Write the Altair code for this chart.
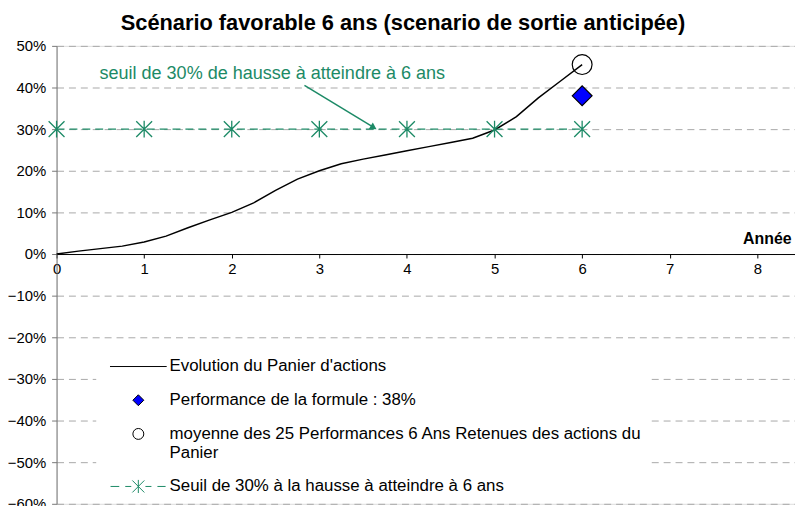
import altair as alt
import pandas as pd

# ---------------- data ----------------
years = [0, 0.25, 0.5, 0.75, 1.0, 1.25, 1.5, 1.75, 2.0, 2.25, 2.5, 2.75, 3.0,
         3.25, 3.5, 3.75, 4.0, 4.25, 4.5, 4.75, 5.0, 5.25, 5.5, 5.75, 6.0]
panier = [0.0, 0.007, 0.013, 0.019, 0.029, 0.043, 0.063, 0.082, 0.100, 0.123,
          0.153, 0.180, 0.200, 0.217, 0.228, 0.238, 0.248, 0.258, 0.268, 0.278,
          0.298, 0.330, 0.375, 0.415, 0.455]

seuil_years = [0, 1, 2, 3, 4, 5, 6]
seuil_values = [0.30, 0.30, 0.30, 0.30, 0.30, 0.30, 0.30]

perf_year = [6]
perf_value = [0.38]
moy_year = [6]
moy_value = [0.455]

series_names = [
    "Evolution du Panier d'actions",
    "Performance de la formule : 38%",
    "moyenne des 25 Performances 6 Ans Retenues des actions du Panier",
    "Seuil de 30% à la hausse à atteindre à 6 ans",
]
x_ticks = [0, 1, 2, 3, 4, 5, 6, 7, 8]
y_ticks = [-0.6, -0.5, -0.4, -0.3, -0.2, -0.1, 0.0, 0.1, 0.2, 0.3, 0.4, 0.5]

title_text = "Scénario favorable 6 ans (scenario de sortie anticipée)"
annot_text = "seuil de 30% de hausse à atteindre à 6 ans"

# ---------------- style / layout ----------------
GREEN = "#1c8a66"
FONT = "Liberation Sans"
W, H = 745, 462
X_DOM = [0, 8.43]
Y_DOM = [-0.6, 0.5]
AXIS_OFFSET = -H * (0 - Y_DOM[0]) / (Y_DOM[1] - Y_DOM[0])

ANNOT_X, ANNOT_Y = 0.49, 0.433
ARROW_X1, ARROW_Y1, ARROW_X2, ARROW_Y2 = 2.83, 0.405, 3.62, 0.304

STAR = "M0,-0.85L0,0.85M-0.8,-0.8L0.8,0.8M-0.8,0.8L0.8,-0.8"
LEG_LINE = "M-5.2,0L5.2,0"
LEG_SEUIL = ("M-5.1,0L-3.5,0M-2.4,0L-1.3,0M1.3,0L2.4,0M3.5,0L5.0,0"
             "M0,-1.2L0,1.2M-1.1,-1.1L1.1,1.1M-1.1,1.1L1.1,-1.1")

xs = alt.Scale(domain=X_DOM, nice=False, zero=False)
ys = alt.Scale(domain=Y_DOM, nice=False, zero=False)

df_line = pd.DataFrame({"annee": years, "valeur": panier})
df_seuil = pd.DataFrame({"annee": seuil_years, "valeur": seuil_values})
df_mark = pd.DataFrame({
    "annee": perf_year + moy_year,
    "valeur": perf_value + moy_value,
    "serie": [series_names[1], series_names[2]],
})
df_annot = pd.DataFrame({"x": [ANNOT_X], "y": [ANNOT_Y], "t": [annot_text]})
df_arrow = pd.DataFrame({"x": [ARROW_X1], "y": [ARROW_Y1],
                         "x2": [ARROW_X2], "y2": [ARROW_Y2]})

x_axis = alt.Axis(values=x_ticks, format="d", grid=False, offset=AXIS_OFFSET,
                  domainColor="black", tickColor="black", tickSize=4,
                  labelFontSize=15, labelFont=FONT, labelColor="black",
                  labelPadding=4, labelFlush=False,
                  title="Année", titleFont=FONT, titleFontSize=16,
                  titleFontWeight="bold", titleColor="black",
                  titleX=W - 4, titleY=-11, titleAlign="right",
                  titleBaseline="alphabetic")
y_axis = alt.Axis(values=y_ticks, format=".0%", grid=True,
                  gridColor="#a8a8a8", gridDash=[7, 5], gridWidth=1,
                  domainColor="#777777", tickColor="#777777", tickSize=5,
                  labelFontSize=15, labelFont=FONT, labelColor="black",
                  labelPadding=6, title=None)

base_x = alt.X("annee:Q", scale=xs, axis=x_axis)
base_y = alt.Y("valeur:Q", scale=ys, axis=y_axis)

line = alt.Chart(df_line).mark_line(color="black", strokeWidth=1.5).encode(
    x=base_x, y=base_y)

seuil_line = alt.Chart(df_seuil).mark_line(
    color=GREEN, strokeWidth=1.3, strokeDash=[8, 5]).encode(
    x=alt.X("annee:Q", scale=xs), y=alt.Y("valeur:Q", scale=ys))
seuil_pts = alt.Chart(df_seuil).mark_point(
    shape=STAR, size=400, stroke=GREEN, strokeWidth=1.3, fill="transparent",
    opacity=1).encode(
    x=alt.X("annee:Q", scale=xs), y=alt.Y("valeur:Q", scale=ys))

legend = alt.Legend(
    title=None, orient="none", legendX=40, legendY=309,
    fillColor="white", padding=6, symbolSize=121,
    symbolOffset=28, labelOffset=23, rowPadding=16,
    labelFont=FONT, labelFontSize=17, labelColor="black", labelLimit=700,
    symbolStrokeWidth=1, symbolOpacity=1,
    labelExpr=("datum.label == '" + series_names[2] + "' ? "
               "['moyenne des 25 Performances 6 Ans Retenues des actions du', 'Panier']"
               " : datum.label"),
)
shape_scale = alt.Scale(domain=series_names,
                        range=[LEG_LINE, "diamond", "circle", LEG_SEUIL])
fill_scale = alt.Scale(domain=series_names,
                       range=["transparent", "#0000ff", "transparent", "transparent"])
stroke_scale = alt.Scale(domain=series_names,
                         range=["black", "black", "black", GREEN])

markers = alt.Chart(df_mark).mark_point(size=400, strokeWidth=1.2, opacity=1,
                                        filled=True).encode(
    x=alt.X("annee:Q", scale=xs), y=alt.Y("valeur:Q", scale=ys),
    shape=alt.Shape("serie:N", scale=shape_scale, legend=legend),
    fill=alt.Fill("serie:N", scale=fill_scale, legend=legend),
    stroke=alt.Stroke("serie:N", scale=stroke_scale, legend=legend),
)

annot = alt.Chart(df_annot).mark_text(
    align="left", baseline="middle", font=FONT, fontSize=18.2, color=GREEN).encode(
    x=alt.X("x:Q", scale=xs), y=alt.Y("y:Q", scale=ys), text="t:N")
arrow = alt.Chart(df_arrow).mark_rule(color=GREEN, strokeWidth=1.5).encode(
    x=alt.X("x:Q", scale=xs), y=alt.Y("y:Q", scale=ys), x2="x2:Q", y2="y2:Q")
arrow_head = alt.Chart(df_arrow).mark_point(
    shape="triangle-right", size=60, filled=True, color=GREEN, opacity=1,
    angle=31).encode(
    x=alt.X("x2:Q", scale=xs), y=alt.Y("y2:Q", scale=ys))

chart = alt.layer(line, seuil_line, seuil_pts, markers, annot, arrow, arrow_head).properties(
    width=W, height=H,
    title=alt.TitleParams(title_text, font=FONT, fontSize=22, fontWeight="bold",
                          color="black", anchor="middle", dx=-23, offset=4),
    autosize=alt.AutoSizeParams(type="none"),
    padding={"left": 49, "top": 36, "right": 0, "bottom": 0},
).configure_view(stroke=None).configure(background="white")

chart.save("out.html", embed_options={"renderer": "svg", "actions": False})
